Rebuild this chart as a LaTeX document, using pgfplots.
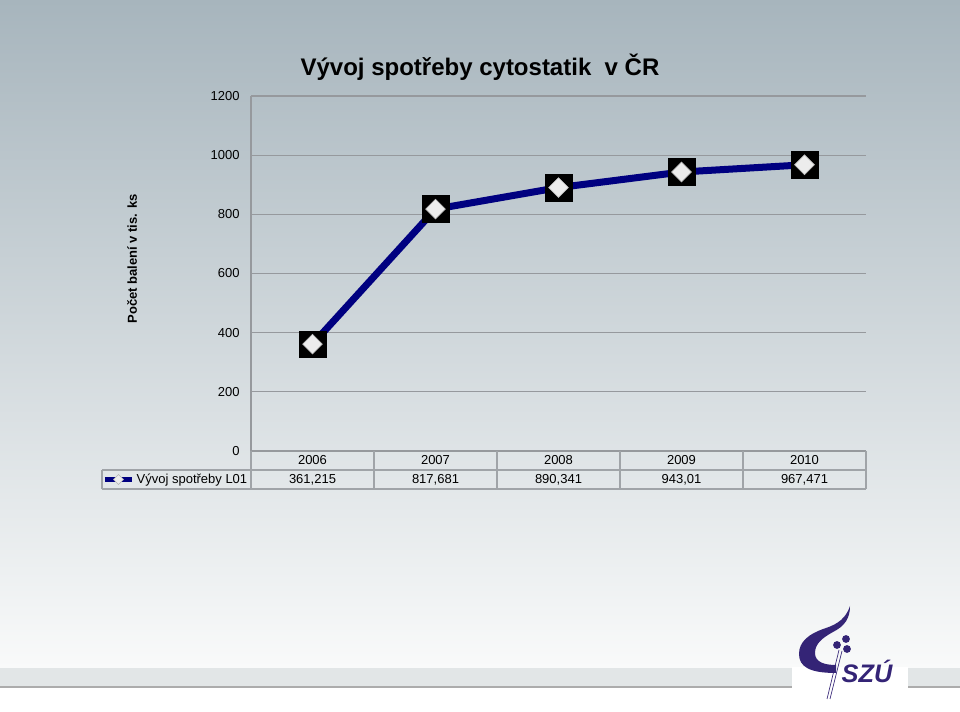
\documentclass[border=0pt]{standalone}
\usepackage{pgfplots}
\pgfplotsset{compat=1.18}
\usepackage{fontspec}
\setmainfont{Liberation Sans}
\definecolor{navyline}{RGB}{0,0,128}
\definecolor{gridgray}{RGB}{150,153,157}
\definecolor{tabgray}{RGB}{160,164,168}
\definecolor{bgtop}{RGB}{167,181,189}
\definecolor{bgmid}{RGB}{214,220,224}
\definecolor{bgbot}{RGB}{249,250,250}
\definecolor{band}{RGB}{226,230,231}
\definecolor{szu}{RGB}{52,36,118}
\newcommand\tickfont{\fontsize{9.75}{11}\selectfont}

\begin{document}
\begin{tikzpicture}
% slide background, coordinates in pixels (y downwards)
\begin{scope}[x=0.75pt,y=-0.75pt,yshift=534pt]
  \fill[white] (0,0) rectangle (960,712);
  \shade[top color=bgtop, middle color=bgmid, bottom color=bgbot] (0,0) rectangle (960,668);
  \fill[band] (0,668) rectangle (960,686);
  \fill[gray!65] (0,686) rectangle (960,688);
  \fill[white] (792,667) rectangle (908,712);
  \node[font=\bfseries\fontsize{18}{20}\selectfont] at (480,67) {Vývoj spotřeby cytostatik\ \ v ČR};
  \node[font=\bfseries\tickfont, rotate=90] at (132,259) {Počet balení v tis. ks};
\end{scope}

\begin{axis}[
  at={(188.25pt,195.75pt)}, anchor=south west,
  scale only axis, width=461.25pt, height=266.25pt,
  xmin=-0.5, xmax=4.5, ymin=0, ymax=1200,
  axis x line=bottom, axis y line=left,
  axis line style={draw=gridgray, line width=0.9pt, -},
  major tick length=0pt,
  xtick={0,1,2,3,4},
  xticklabels={2006,2007,2008,2009,2010},
  xticklabel style={anchor=center, yshift=-7.1pt, font=\tickfont},
  ytick={0,200,...,1200},
  yticklabel style={font=\tickfont, xshift=-5pt},
  /pgf/number format/assume math mode=true,
  /pgf/number format/1000 sep={},
  ymajorgrids, major grid style={draw=gridgray, line width=0.9pt},
  clip=false,
  legend style={at={(-0.2423,-0.0803)}, anchor=west, draw=none, fill=none,
    inner sep=0pt, font=\tickfont, nodes={inner sep=1.5pt}},
  legend cell align=left,
]
\addplot[navyline, line width=5.25pt, forget plot] coordinates {
  (0,361.215) (1,817.681) (2,890.341) (3,943.01) (4,967.471)};
\addplot[only marks, mark=square*, mark size=10pt, mark options={fill=black, draw=black}, forget plot] coordinates {
  (0,361.215) (1,817.681) (2,890.341) (3,943.01) (4,967.471)};
\addplot[only marks, mark=diamond*, mark size=7.4pt, mark options={xscale=1.33, fill=gray!15, draw=gray!50, line width=0.5pt}, forget plot] coordinates {
  (0,361.215) (1,817.681) (2,890.341) (3,943.01) (4,967.471)};
\addlegendimage{legend image code/.code={
  \draw[navyline, line width=3.8pt] (0pt,0pt) -- (20.5pt,0pt);
  \draw[mark=diamond*, mark size=3.8pt, mark options={xscale=1.33, fill=gray!15, draw=gray!60, line width=0.4pt}] plot coordinates {(10.25pt,0pt)};}}
\addlegendentry{Vývoj spotřeby L01}
\end{axis}

\begin{scope}[x=0.75pt,y=-0.75pt,yshift=534pt]
  % data table under the axis
  \draw[tabgray, line width=0.9pt]
    (102,470) -- (866,470)
    (102,489) -- (866,489)
    (102,470) -- (102,489);
  \foreach \xx in {251,374,497,620,743,866}
    \draw[tabgray, line width=0.9pt] (\xx,451) -- (\xx,489);
  \foreach \xx/\v in {312.5/{361,215},435.5/{817,681},558.5/{890,341},681.5/{943,01},804.5/{967,471}}
    \node[font=\tickfont] at (\xx,479.5) {\v};
  % logo
  \fill[szu] (850,606) .. controls (846,618) and (838,624) .. (826,628)
    .. controls (808,634) and (799,642) .. (799,654)
    .. controls (799,667) and (810,673) .. (836,673)
    -- (836,665) .. controls (824,665) and (815,662) .. (815,653)
    .. controls (815,644) and (822,638) .. (833,632)
    .. controls (845,626) and (850,618) .. (850,606) -- cycle;
  \fill[szu] (837,645) circle (3.9) (846,639) circle (3.9) (847,649) circle (3.9);
  \draw[szu, line width=0.5pt] (839,650) -- (827,699) (842,651) -- (830,699);
  \node[szu, font=\bfseries\itshape\fontsize{19}{20}\selectfont] at (867,671) {SZÚ};
\end{scope}
\end{tikzpicture}
\end{document}
